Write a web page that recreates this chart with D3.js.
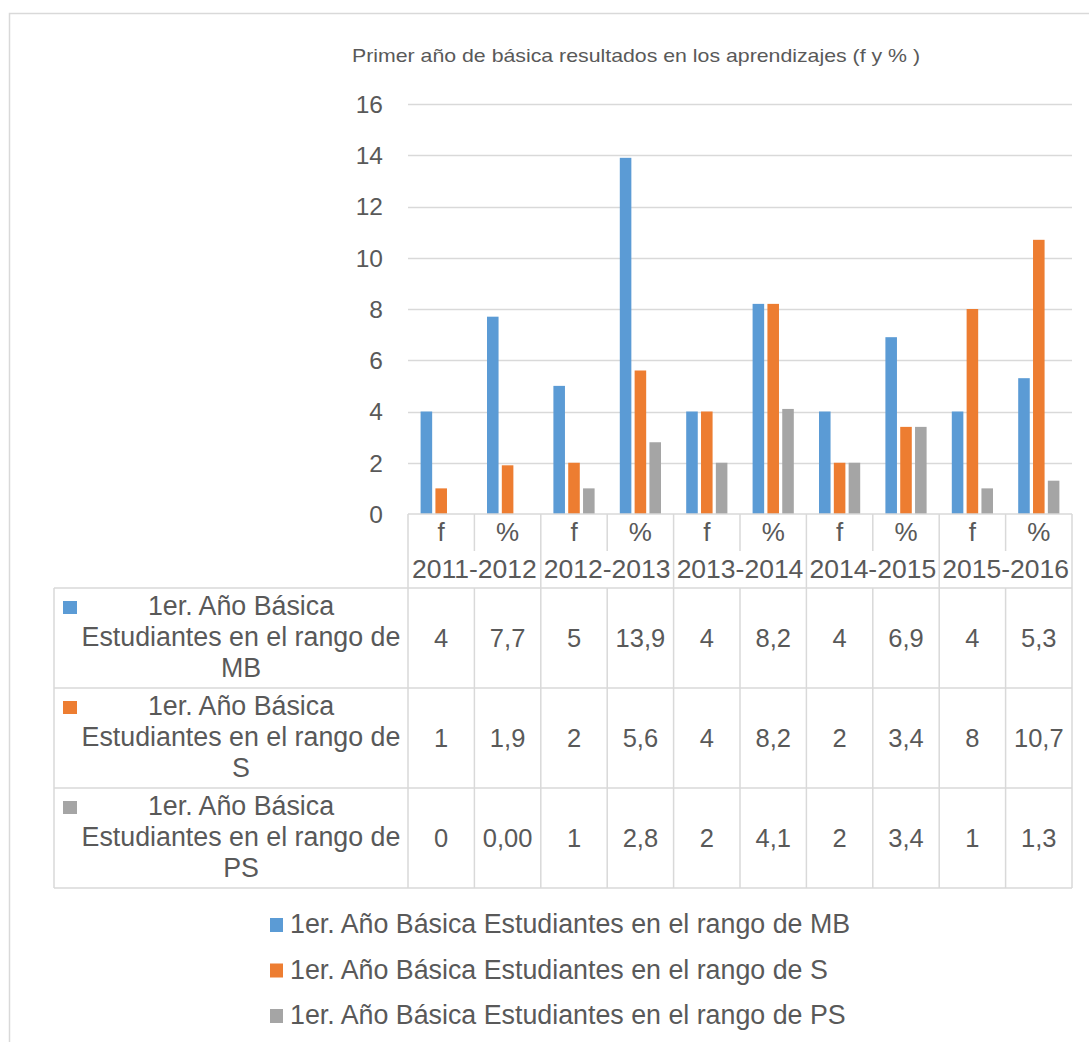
<!DOCTYPE html>
<html>
<head>
<meta charset="utf-8">
<script src="https://cdn.jsdelivr.net/npm/d3@7"></script>
<style>
  html, body { margin: 0; padding: 0; background: #fff; }
  svg { display: block; font-family: "Liberation Sans", Arial, sans-serif; }
</style>
</head>
<body>
<svg id="chart" width="1089" height="1042"></svg>
<script>
// Periods and the two sub-columns under each (frequency and percentage)
const periods = ["2011-2012", "2012-2013", "2013-2014", "2014-2015", "2015-2016"];
const subColumns = ["f", "%"];

// Series values as written in the data table (comma as decimal mark)
const mbValues = ["4", "7,7", "5", "13,9", "4", "8,2", "4", "6,9", "4", "5,3"];
const sValues  = ["1", "1,9", "2", "5,6", "4", "8,2", "2", "3,4", "8", "10,7"];
const psValues = ["0", "0,00", "1", "2,8", "2", "4,1", "2", "3,4", "1", "1,3"];

const seriesNames = [
  "1er. Año Básica Estudiantes en el rango de MB",
  "1er. Año Básica Estudiantes en el rango de S",
  "1er. Año Básica Estudiantes en el rango de PS"
];
const seriesWrapped = [
  ["1er. Año Básica", "Estudiantes en el rango de", "MB"],
  ["1er. Año Básica", "Estudiantes en el rango de", "S"],
  ["1er. Año Básica", "Estudiantes en el rango de", "PS"]
];
const yTicks = [0, 2, 4, 6, 8, 10, 12, 14, 16];
const titleText = "Primer año de básica resultados en los aprendizajes (f y % )";

const colors = ["#5B9BD5", "#ED7D31", "#A5A5A5"];
const textColor = "#595959";
const gridColor = "#D9D9D9";

const parseNum = s => +s.replace(",", ".");
const seriesText = [mbValues, sValues, psValues];
const seriesNum = seriesText.map(arr => arr.map(parseNum));

// Column keys: one per period/sub-column pair
const columns = [];
periods.forEach(p => subColumns.forEach(s => columns.push({ key: p + "|" + s, period: p, sub: s })));

const svg = d3.select("#chart");

// Outer frame
svg.append("path")
  .attr("d", "M9.5,1042 L9.5,13.5 L1089,13.5")
  .attr("fill", "none").attr("stroke", gridColor).attr("stroke-width", 1.5);

// Plot geometry
const plotLeft = 408, plotRight = 1072, plotTop = 104, plotBottom = 514;

const x = d3.scaleBand().domain(columns.map(c => c.key)).range([plotLeft, plotRight]).paddingInner(0).paddingOuter(0);
const xInner = d3.scaleBand().domain([0, 1, 2]).range([0, x.bandwidth()]).paddingInner(0.22).paddingOuter(0.85);
const y = d3.scaleLinear().domain([0, 16]).range([plotBottom, plotTop]);

// Title
svg.append("text")
  .attr("x", 352).attr("y", 62)
  .attr("font-size", 18.5).attr("fill", textColor)
  .attr("textLength", 568).attr("lengthAdjust", "spacingAndGlyphs")
  .text(titleText);

// Gridlines
svg.append("g").selectAll("line").data(yTicks.filter(t => t > 0)).join("line")
  .attr("x1", plotLeft).attr("x2", plotRight)
  .attr("y1", d => Math.round(y(d)) + 0.5).attr("y2", d => Math.round(y(d)) + 0.5)
  .attr("stroke", gridColor).attr("stroke-width", 1.3);

// Y axis labels
const yAxis = d3.axisLeft(y).tickValues(yTicks).tickSize(0).tickPadding(0);
const yG = svg.append("g").attr("transform", `translate(383,0)`).call(yAxis);
yG.select(".domain").remove();
yG.attr("font-size", null).attr("font-family", null);
yG.selectAll("text").attr("font-size", 24.5).attr("fill", textColor).attr("dy", "0.34em");

// Bars
const barG = svg.append("g");
seriesNum.forEach((vals, si) => {
  barG.append("g").selectAll("rect").data(columns.map((c, i) => ({ c, v: vals[i] }))).join("rect")
    .attr("x", d => x(d.c.key) + xInner(si))
    .attr("width", xInner.bandwidth())
    .attr("y", d => y(d.v))
    .attr("height", d => y(0) - y(d.v))
    .attr("fill", colors[si]);
});

// Data table
const headRow1 = 551, headRow2 = 588;
const rowH = 100;
const tableLeft = 54;
const tableG = svg.append("g").attr("stroke", gridColor).attr("stroke-width", 1.5);

// Category axis baseline
tableG.append("line").attr("x1", plotLeft).attr("x2", plotRight).attr("y1", plotBottom).attr("y2", plotBottom);
// Horizontal rules
const rowLines = [headRow2, headRow2 + rowH, headRow2 + 2 * rowH, headRow2 + 3 * rowH];
tableG.selectAll("line.h").data(rowLines).join("line").attr("class", "h")
  .attr("x1", tableLeft).attr("x2", plotRight).attr("y1", d => d).attr("y2", d => d);
// Left edge of the series column
tableG.append("line").attr("x1", tableLeft).attr("x2", tableLeft).attr("y1", headRow2).attr("y2", headRow2 + 3 * rowH);
// Period boundaries run the full table height
const periodEdges = periods.map(p => x(p + "|f")).concat([plotRight]);
tableG.selectAll("line.p").data(periodEdges).join("line").attr("class", "p")
  .attr("x1", d => d).attr("x2", d => d).attr("y1", plotBottom).attr("y2", headRow2 + 3 * rowH);
// Sub-column boundaries: in the f/% header row, and in data rows
periods.forEach(p => {
  const xm = x(p + "|%");
  tableG.append("line").attr("x1", xm).attr("x2", xm).attr("y1", plotBottom).attr("y2", headRow1);
  tableG.append("line").attr("x1", xm).attr("x2", xm).attr("y1", headRow2).attr("y2", headRow2 + 3 * rowH);
});

// Sub-column labels
svg.append("g").selectAll("text").data(columns).join("text")
  .attr("x", d => x(d.key) + x.bandwidth() / 2).attr("y", 541)
  .attr("text-anchor", "middle").attr("font-size", 26).attr("fill", textColor)
  .text(d => d.sub);
// Period labels
svg.append("g").selectAll("text").data(periods).join("text")
  .attr("x", d => x(d + "|f") + x.bandwidth()).attr("y", 578)
  .attr("text-anchor", "middle").attr("font-size", 26.5).attr("fill", textColor)
  .text(d => d);

// Series rows: key swatch, wrapped name, values
seriesText.forEach((vals, si) => {
  const top = headRow2 + si * rowH;
  svg.append("rect").attr("x", 63).attr("y", top + 13).attr("width", 14).attr("height", 13).attr("fill", colors[si]);
  svg.append("g").selectAll("text").data(seriesWrapped[si]).join("text")
    .attr("x", 241).attr("y", (d, i) => top + 27 + i * 31)
    .attr("text-anchor", "middle").attr("font-size", 26.8).attr("fill", textColor)
    .text(d => d);
  svg.append("g").selectAll("text").data(columns.map((c, i) => ({ c, t: vals[i] }))).join("text")
    .attr("x", d => x(d.c.key) + x.bandwidth() / 2).attr("y", top + 58.5)
    .attr("text-anchor", "middle").attr("font-size", 25.5).attr("fill", textColor)
    .text(d => d.t);
});

// Legend
const legend = svg.append("g").selectAll("g").data(seriesNames).join("g")
  .attr("transform", (d, i) => `translate(270,${925 + i * 45.5})`);
legend.append("rect").attr("x", 0).attr("y", -7).attr("width", 13).attr("height", 14)
  .attr("fill", (d, i) => colors[i]);
legend.append("text").attr("x", 20).attr("y", 8)
  .attr("font-size", 26.8).attr("fill", textColor)
  .text(d => d);
</script>
</body>
</html>
